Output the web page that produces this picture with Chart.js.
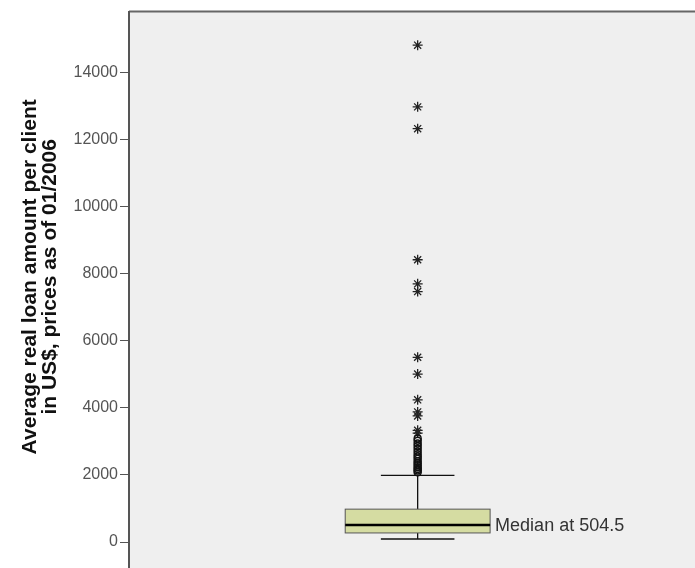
<!DOCTYPE html>
<html>
<head>
<meta charset="utf-8">
<script src="https://cdn.jsdelivr.net/npm/chart.js@4/dist/chart.umd.min.js"></script>
<style>
  html, body { margin: 0; padding: 0; background: #fff; overflow: hidden; }
  #wrap { width: 695px; height: 568px; }
</style>
</head>
<body>
<div id="wrap"><canvas id="loanChart"></canvas></div>
<script>
// five number summary of the box
const boxStats = { min: 90, q1: 270, median: 504.5, q3: 980, max: 1990 }
// mild outliers (circles) and extreme outliers (stars)
const mildOutliers = [2080, 2130, 2180, 2230, 2290, 2350, 2410, 2480, 2550, 2620, 2700, 2780, 2860, 2940, 3020, 3090]
const extremeOutliers = [3250, 3330, 3760, 3880, 4240, 5010, 5510, 7470, 7700, 8420, 12330, 12980, 14820]
const yTicks = [0, 2000, 4000, 6000, 8000, 10000, 12000, 14000]

const boxX = 0
const FONT = '"Liberation Sans", Arial, sans-serif'

const boxPlugin = {
  id: 'boxPlot',
  beforeDraw(chart) {
    // panel background, running on below the zero line to the canvas edge
    const { ctx, chartArea, height } = chart
    ctx.save()
    ctx.fillStyle = '#efefef'
    ctx.fillRect(chartArea.left, chartArea.top, chartArea.right - chartArea.left, height - chartArea.top)
    ctx.strokeStyle = '#666'
    ctx.lineWidth = 2
    ctx.beginPath()
    ctx.moveTo(chartArea.left, chartArea.top)
    ctx.lineTo(chartArea.right, chartArea.top)
    ctx.stroke()
    ctx.strokeStyle = '#555'
    ctx.beginPath()
    ctx.moveTo(chartArea.left, chartArea.bottom)
    ctx.lineTo(chartArea.left, height)
    ctx.stroke()
    ctx.restore()
  },
  beforeDatasetsDraw(chart) {
    const ctx = chart.ctx
    const xs = chart.scales.x
    const ys = chart.scales.y
    const cx = xs.getPixelForValue(boxX)
    const left = xs.getPixelForValue(boxX - 0.256)
    const right = xs.getPixelForValue(boxX + 0.256)
    const capL = xs.getPixelForValue(boxX - 0.13)
    const capR = xs.getPixelForValue(boxX + 0.13)
    const yQ1 = ys.getPixelForValue(boxStats.q1)
    const yQ3 = ys.getPixelForValue(boxStats.q3)
    const yMed = ys.getPixelForValue(boxStats.median)
    const yMin = ys.getPixelForValue(boxStats.min)
    const yMax = ys.getPixelForValue(boxStats.max)
    ctx.save()
    // whiskers
    ctx.strokeStyle = '#111'
    ctx.lineWidth = 1.3
    ctx.beginPath()
    ctx.moveTo(cx, yQ3); ctx.lineTo(cx, yMax)
    ctx.moveTo(capL, yMax); ctx.lineTo(capR, yMax)
    ctx.moveTo(cx, yQ1); ctx.lineTo(cx, yMin)
    ctx.moveTo(capL, yMin); ctx.lineTo(capR, yMin)
    ctx.stroke()
    // box
    ctx.fillStyle = '#d5dca2'
    ctx.fillRect(left, yQ3, right - left, yQ1 - yQ3)
    ctx.strokeStyle = '#555'
    ctx.lineWidth = 1
    ctx.strokeRect(left, yQ3, right - left, yQ1 - yQ3)
    // median
    ctx.strokeStyle = '#000'
    ctx.lineWidth = 2.5
    ctx.beginPath()
    ctx.moveTo(left, yMed); ctx.lineTo(right, yMed)
    ctx.stroke()
    ctx.fillStyle = '#333'
    ctx.font = '18px ' + FONT
    ctx.textBaseline = 'middle'
    ctx.fillText('Median at ' + boxStats.median, right + 5, yMed + 1)
    ctx.restore()
  }
}

new Chart(document.getElementById('loanChart'), {
  type: 'scatter',
  data: {
    datasets: [
      {
        label: 'Outliers',
        data: mildOutliers.map(v => ({ x: boxX, y: v })),
        pointStyle: 'circle',
        pointRadius: 3.5,
        borderColor: '#111',
        backgroundColor: 'rgba(0,0,0,0)',
        borderWidth: 1.5
      },
      {
        label: 'Extremes',
        data: extremeOutliers.map(v => ({ x: boxX, y: v })),
        pointStyle: 'star',
        pointRadius: 5,
        borderColor: '#222',
        backgroundColor: '#222',
        borderWidth: 1.3
      }
    ]
  },
  options: {
    responsive: true,
    maintainAspectRatio: false,
    animation: false,
    layout: { autoPadding: false, padding: { top: 8, right: 0, bottom: 26, left: 0 } },
    plugins: { legend: { display: false }, tooltip: { enabled: false } },
    scales: {
      x: { type: 'linear', min: -1.02, max: 0.98, display: false },
      y: {
        min: 0,
        max: 15822,
        afterFit(scale) { scale.width = 129 },
        afterBuildTicks(scale) { scale.ticks = yTicks.map(v => ({ value: v })) },
        border: { display: true, color: '#555', width: 2 },
        grid: { drawOnChartArea: false, tickLength: 9, tickColor: '#555', tickWidth: 1 },
        ticks: {
          color: '#555',
          padding: 2,
          font: { family: FONT, size: 16 },
          callback: v => String(v)
        },
        title: {
          display: true,
          text: ['Average real loan amount per client', 'in US$, prices as of 01/2006'],
          color: '#111',
          padding: { top: 20, bottom: 0 },
          font: { family: FONT, size: 21, weight: 'bold', lineHeight: 0.95 }
        }
      }
    }
  },
  plugins: [boxPlugin]
})
</script>
</body>
</html>
